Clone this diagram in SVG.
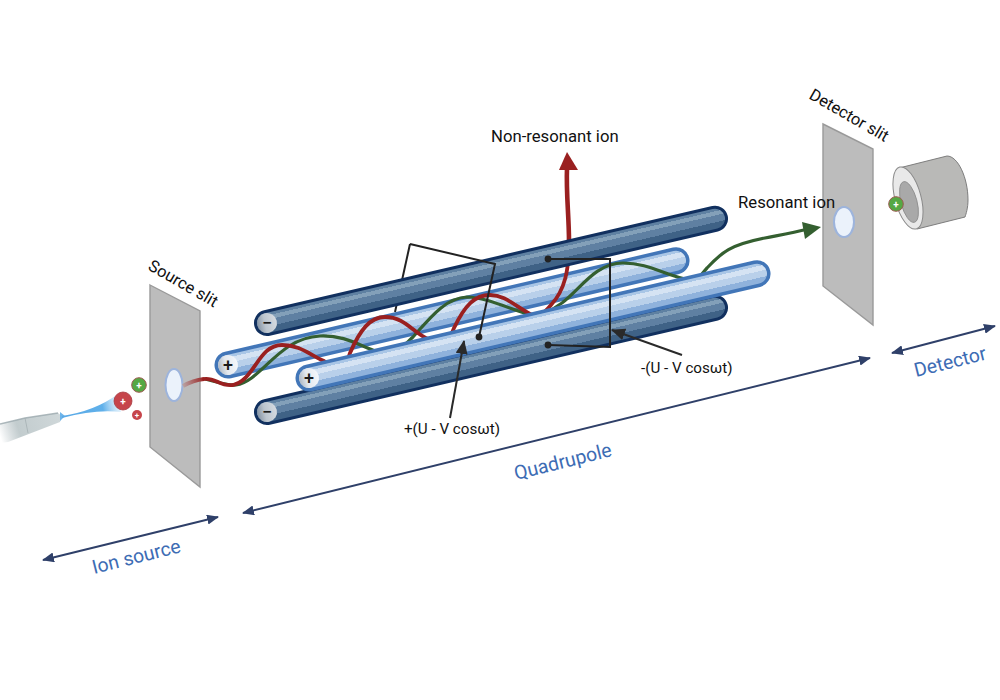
<svg xmlns="http://www.w3.org/2000/svg" xmlns:xlink="http://www.w3.org/1999/xlink" width="1000" height="700" viewBox="0 0 1000 700">
<style>
text{font-family:Roboto,"Liberation Sans",sans-serif;fill:#111}
.blue{font-size:19.4px;fill:#3d6cb4}
.slitl{font-size:16.5px}
.lab{font-size:16.7px}
.volt{font-size:15.2px}
.sign{font-size:18px;font-weight:500;text-anchor:middle;fill:#1a1a1a}
.ionp{font-size:10px;font-weight:700;text-anchor:middle;fill:#fff}
.slit{fill:#bcbcbc;stroke:#9a9a9a;stroke-width:1.4}
.hole{fill:#ebf2fb;stroke:#9db4dc;stroke-width:2}
.dim{fill:none;stroke:#2f4069;stroke-width:2;marker-start:url(#navyS);marker-end:url(#navy)}
.wire{fill:none;stroke:#222;stroke-width:2}
.red{fill:none;stroke:#9a2020;stroke-width:3.8;stroke-linecap:round}
.green{fill:none;stroke:#345f30;stroke-width:3.2;stroke-linecap:round}
.ptr{stroke:#2a2a2a;stroke-width:2;marker-end:url(#blk);fill:none}
</style>
<defs>
<linearGradient id="gNeg" gradientUnits="userSpaceOnUse" x1="0" y1="-10" x2="0" y2="10">
<stop offset="0" stop-color="#5f81a2"/><stop offset=".14" stop-color="#5f81a2"/><stop offset=".14" stop-color="#83a0b9"/><stop offset=".34" stop-color="#83a0b9"/><stop offset=".34" stop-color="#5f80a2"/><stop offset=".68" stop-color="#5f80a2"/><stop offset=".68" stop-color="#3f6286"/><stop offset="1" stop-color="#3f6286"/>
</linearGradient>
<linearGradient id="gPos" gradientUnits="userSpaceOnUse" x1="0" y1="-10" x2="0" y2="10">
<stop offset="0" stop-color="#a9c6e6"/><stop offset=".14" stop-color="#a9c6e6"/><stop offset=".14" stop-color="#d5e3f3"/><stop offset=".4" stop-color="#d5e3f3"/><stop offset=".4" stop-color="#b9d0ea"/><stop offset=".72" stop-color="#b9d0ea"/><stop offset=".72" stop-color="#8fb2dc"/><stop offset="1" stop-color="#8fb2dc"/>
</linearGradient>
<linearGradient id="cap" x1="0" y1="0" x2="1" y2="0">
<stop offset="0" stop-color="#aeb8c4"/><stop offset=".4" stop-color="#e3e8ee"/><stop offset="1" stop-color="#f4f7fb"/>
</linearGradient>
<linearGradient id="capNeg" x1="0" y1="0" x2="1" y2="0">
<stop offset="0" stop-color="#8593a3"/><stop offset=".4" stop-color="#bcc5ce"/><stop offset="1" stop-color="#d5dbe1"/>
</linearGradient>
<linearGradient id="needle" gradientUnits="userSpaceOnUse" x1="0" y1="436" x2="62" y2="416">
<stop offset="0" stop-color="#b7c2c6" stop-opacity="0"/><stop offset=".3" stop-color="#c2ccce"/><stop offset="1" stop-color="#d0d8da"/>
</linearGradient>
<linearGradient id="spray" gradientUnits="userSpaceOnUse" x1="62" y1="416" x2="120" y2="404">
<stop offset="0" stop-color="#5aa9e6"/><stop offset=".7" stop-color="#5fb0ea"/><stop offset="1" stop-color="#a9d6f5" stop-opacity=".3"/>
</linearGradient>
<linearGradient id="fade" gradientUnits="userSpaceOnUse" x1="183" y1="386" x2="205" y2="379">
<stop offset="0" stop-color="#b9a4a4"/><stop offset="1" stop-color="#9a2020"/>
</linearGradient>
<marker id="navy" markerUnits="userSpaceOnUse" markerWidth="12" markerHeight="10" refX="11" refY="5" orient="auto"><path d="M0 0L12 5L0 10Z" fill="#2f4069"/></marker>
<marker id="navyS" markerUnits="userSpaceOnUse" markerWidth="12" markerHeight="10" refX="1" refY="5" orient="auto"><path d="M12 0L0 5L12 10Z" fill="#2f4069"/></marker>
<marker id="blk" markerUnits="userSpaceOnUse" markerWidth="14" markerHeight="12" refX="13" refY="6" orient="auto"><path d="M0 0L14 6L0 12Z" fill="#2a2a2a"/></marker>
<g id="negRod"><line x2="460" stroke="#11305f" stroke-width="26" stroke-linecap="round"/><line x2="460" stroke="url(#gNeg)" stroke-width="20" stroke-linecap="round"/><ellipse cx="0" rx="10" ry="10" fill="url(#capNeg)"/></g>
<g id="posRod"><line x2="460" stroke="#4276b8" stroke-width="27" stroke-linecap="round"/><line x2="460" stroke="url(#gPos)" stroke-width="20" stroke-linecap="round"/><ellipse cx="0" rx="10" ry="10" fill="url(#cap)"/></g>
</defs>

<g id="needle-tip">
<path d="M0 424L25 418L58 413L62 416L60 422L8 442L0 443Z" fill="url(#needle)"/>
<path d="M0 424L25 418L58 413" fill="none" stroke="#9aa8ac" stroke-width="1.5" opacity=".8"/>
<path d="M25 418L28 433" fill="none" stroke="#a5b0b3" stroke-width=".8"/>
<path d="M60 412L65 416L60 421Z" fill="#6db4ea"/>
</g>
<g id="spray-cone"><path d="M62 416Q95 411 118 394L121 412Q95 409 62 418Z" fill="url(#spray)"/></g>
<g id="ions-source">
<circle cx="139" cy="385" r="7.3" fill="#55a844" stroke="#9c5a50" stroke-width="1"/><text class="ionp" x="139" y="389">+</text>
<circle cx="123" cy="401" r="9" fill="#c6454b" stroke="#a83a40" stroke-width=".8"/><text class="ionp" x="123" y="405">+</text>
<circle cx="137" cy="415" r="5" fill="#c6454b"/><text class="ionp" style="font-size:8px" x="137" y="418">+</text>
</g>
<g id="source-slit">
<polygon class="slit" points="150,285 200,311 200,487 150,447"/>
<ellipse class="hole" cx="174" cy="385" rx="8.5" ry="16"/>
</g>
<g id="detector-slit">
<polygon class="slit" points="823,124 873,149 873,325 823,286"/>
<ellipse class="hole" cx="844" cy="222" rx="10" ry="15"/>
</g>
<g id="detector">
<path d="M899 168L947 156C958 156 968 178 968 200C968 208 966 214 965 217L917 229Z" fill="#b9b9b7" stroke="#7d7d7d" stroke-width="1"/>
<ellipse cx="908" cy="198" rx="13" ry="32" transform="rotate(-15 908 198)" fill="#e9e9e9" stroke="#8a8a8a" stroke-width="1"/>
<ellipse cx="909" cy="202" rx="8" ry="21" transform="rotate(-15 909 202)" fill="#a9a9a9" stroke="#8a8a8a" stroke-width=".8"/>
<circle cx="896" cy="204" r="7.3" fill="#55a844" stroke="#9c5a50" stroke-width="1"/><text class="ionp" x="896" y="208">+</text>
</g>

<g id="quadrupole">
<path class="wire" d="M395 312L410 244"/>
<g id="rod-back-plus"><use xlink:href="#posRod" href="#posRod" transform="translate(228 365) rotate(-13.1)"/><text class="sign" x="228" y="371">+</text></g>
<g id="rod-bottom-minus"><use xlink:href="#negRod" href="#negRod" transform="translate(267 412) rotate(-13.1)"/><text class="sign" x="267" y="418">−</text></g>
</g>
<g id="connectors">
<path class="red" d="M569 242C569 215 566 195 567 168" style="stroke-width:4.6"/>
<polygon points="567,152 578,170 559,170" fill="#9a2020"/>
<path class="green" d="M205 379C215 381 225 386 236 385C262 381 278 338 320 336C345 335 358 345 378 352C396 358 404 345 413 337C430 318 445 298 467 297C485 297 510 309 530 315C545 318 552 309 562 303C580 290 595 263 623 263C650 263 665 276 690 280C700 280 703 272 707 268C722 252 730 245 765 238C780 235 792 233 808 229" />
<polygon points="821,227 802,222 805,239" fill="#345f30"/>
<path d="M183 386C190 382 195 380 204 379" fill="none" stroke="url(#fade)" stroke-width="4"/>
<path class="red" d="M204 379C215 377 220 387 233 385C255 380 258 345 282 345C300 345 310 355 324 361C335 368 345 372 350 353C360 330 370 317 385 317C405 317 412 332 428 339C440 344 450 340 454 328C465 305 475 295 490 295C505 295 515 306 532 315C540 318 545 312 551 305C565 290 569 270 569 242"/>
</g>
<g id="rods-front">
<g id="rod-top-minus"><use xlink:href="#negRod" href="#negRod" transform="translate(267 323) rotate(-13.1)"/><text class="sign" x="267" y="329">−</text></g>
<g id="rod-front-plus"><use xlink:href="#posRod" href="#posRod" transform="translate(309 378) rotate(-13.1)"/><text class="sign" x="309" y="384">+</text></g>
</g>
<g id="wires">
<path class="wire" d="M410 244L495 264L479 337"/>
<circle cx="479" cy="337" r="3.4" fill="#222"/>
<path class="wire" d="M548 259L610 259L610 347L548 345"/>
<circle cx="548" cy="259" r="3.4" fill="#222"/>
<circle cx="548" cy="345" r="3.4" fill="#222"/>
<line class="ptr" x1="450" y1="418" x2="464" y2="341"/>
<line class="ptr" x1="682" y1="355" x2="612" y2="330"/>
<line class="dim" x1="43" y1="560" x2="218" y2="517"/>
<line class="dim" x1="243" y1="513" x2="870" y2="358"/>
<line class="dim" x1="892" y1="353" x2="995" y2="326"/>
</g>
<g id="labels">
<text class="slitl" transform="translate(147 269) rotate(30)">Source slit</text>
<text class="slitl" transform="translate(808 98) rotate(30)">Detector slit</text>
<text class="lab" x="491" y="142">Non-resonant ion</text>
<text class="lab" x="738" y="208">Resonant ion</text>
<text class="volt" x="404" y="434">+(U - V cosωt)</text>
<text class="volt" x="641" y="373">-(U - V cosωt)</text>
<text class="blue" transform="translate(94 574) rotate(-14)">Ion source</text>
<text class="blue" transform="translate(516 480) rotate(-14)">Quadrupole</text>
<text class="blue" transform="translate(916 377) rotate(-14)">Detector</text>
</g>
</svg>
